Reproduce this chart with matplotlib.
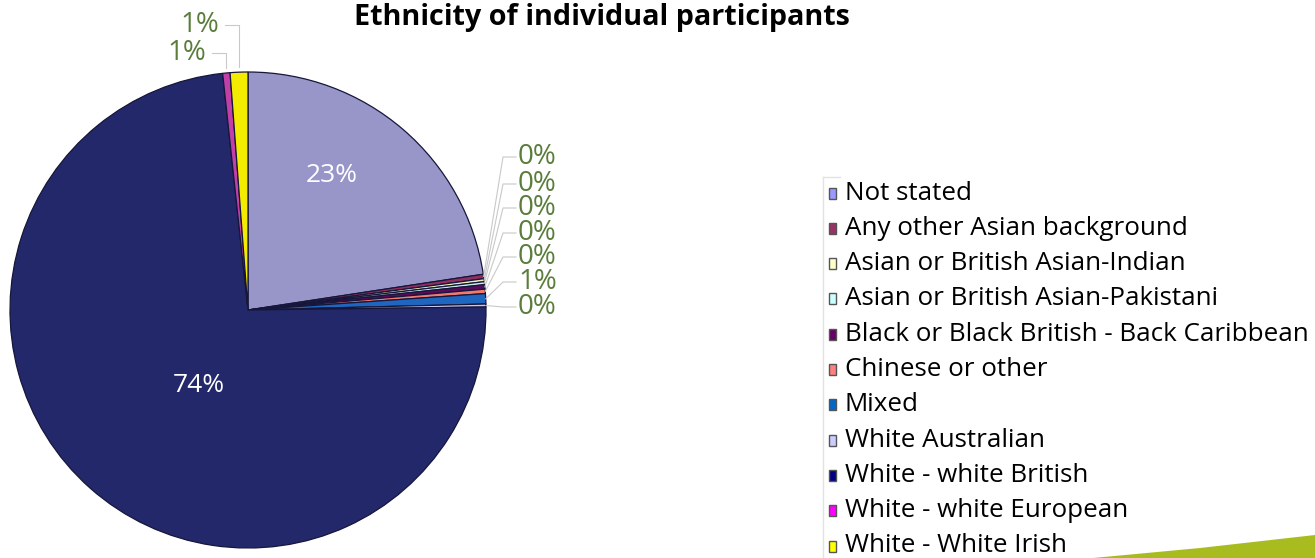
import matplotlib
matplotlib.use("Agg")
import matplotlib.pyplot as plt
from matplotlib.patches import Rectangle, Polygon
import numpy as np

plt.rcParams["font.family"] = ["Open Sans", "DejaVu Sans"]

# Ethnicity breakdown (percent of individual participants)
categories = [
    "Not stated",
    "Any other Asian background",
    "Asian or British Asian-Indian",
    "Asian or British Asian-Pakistani",
    "Black or Black British - Back Caribbean",
    "Chinese or other",
    "Mixed",
    "White Australian",
    "White - white British",
    "White - white European",
    "White - White Irish",
]
shares = [22.6, 0.3, 0.2, 0.2, 0.3, 0.3, 0.7, 0.2, 73.5, 0.5, 1.2]

slice_colors = ["#9896c8", "#8e2f5e", "#ecebbf", "#c4ecec", "#5a0a58", "#f07a70",
                "#1f66c0", "#c8c8f0", "#23286a", "#c040a8", "#f4ec00"]
legend_colors = ["#9999ff", "#993366", "#ffffcc", "#ccffff", "#660066", "#ff8080",
                 "#0066cc", "#ccccff", "#000080", "#ff00ff", "#ffff00"]

W, H = 1315, 558
fig = plt.figure(figsize=(W / 100, H / 100), dpi=100)
ax = fig.add_axes([0, 0, 1, 1])


def Y(y):
    return H - y


def pct(v):
    return f"{int(v + 0.5)}%"


cx, cy, R = 248, Y(310), 238
wedges, _ = ax.pie(shares, colors=slice_colors, startangle=90, counterclock=False,
                   center=(cx, cy), radius=R,
                   wedgeprops=dict(edgecolor="#16163a", linewidth=0.9))
ax.set_xlim(0, W)
ax.set_ylim(0, H)
ax.set_aspect("equal")
ax.axis("off")

label_green = "#5a7d3c"
leader = "#c9c9c9"


def mid_point(w, k=1.0):
    a = np.deg2rad((w.theta1 + w.theta2) / 2)
    return cx + k * R * np.cos(a), cy + k * R * np.sin(a)


# labels inside the two large slices
ax.text(332, Y(176), pct(shares[0]), color="white", fontsize=19, ha="center", va="center")
ax.text(199, Y(386), pct(shares[8]), color="white", fontsize=19, ha="center", va="center")

# stacked labels for the thin slices on the right
right_y = [157, 184, 208, 233, 257, 282, 307]
for i, ly in zip(range(1, 8), right_y):
    px, py = mid_point(wedges[i], 1.0)
    ax.plot([px, 503, 516], [py, Y(ly), Y(ly)], color=leader, lw=0.8, zorder=1)
    ax.text(518, Y(ly), pct(shares[i]), color=label_green, fontsize=20,
            ha="left", va="center")

# labels for the two thin slices at the top
for i, (tx, ty) in zip([9, 10], [(206, 53), (219, 25)]):
    px, py = mid_point(wedges[i], 1.02)
    ax.plot([px, px, tx + 6], [py, Y(ty), Y(ty)], color=leader, lw=0.8, zorder=1)
    ax.text(tx, Y(ty), pct(shares[i]), color=label_green, fontsize=20,
            ha="right", va="center")

# title
ax.text(602, Y(18), "Ethnicity of individual participants", fontsize=20.7,
        fontweight="bold", ha="center", va="center", color="black")

# legend
ax.plot([823, 823], [Y(177), 0], color="#e2e2e2", lw=1)
ax.plot([823, 840], [Y(177), Y(177)], color="#e2e2e2", lw=1)
row0, step = 193, 35.3
for i, (name, col) in enumerate(zip(categories, legend_colors)):
    ry = row0 + i * step
    ax.add_patch(Rectangle((829, Y(ry) - 5.5), 7, 11, facecolor=col,
                           edgecolor="#555555", lw=1.0))
    ax.text(845, Y(ry), name, fontsize=18.7, ha="left", va="center", color="black")

# decorative swoosh in the bottom-right corner
ax.add_patch(Polygon([(1093, Y(558)), (1200, Y(548)), (1315, Y(535)), (1315, 0), (1093, 0)],
                     closed=True, facecolor="#a9bc1f", edgecolor="none"))

fig.savefig("out.png", dpi=100)
